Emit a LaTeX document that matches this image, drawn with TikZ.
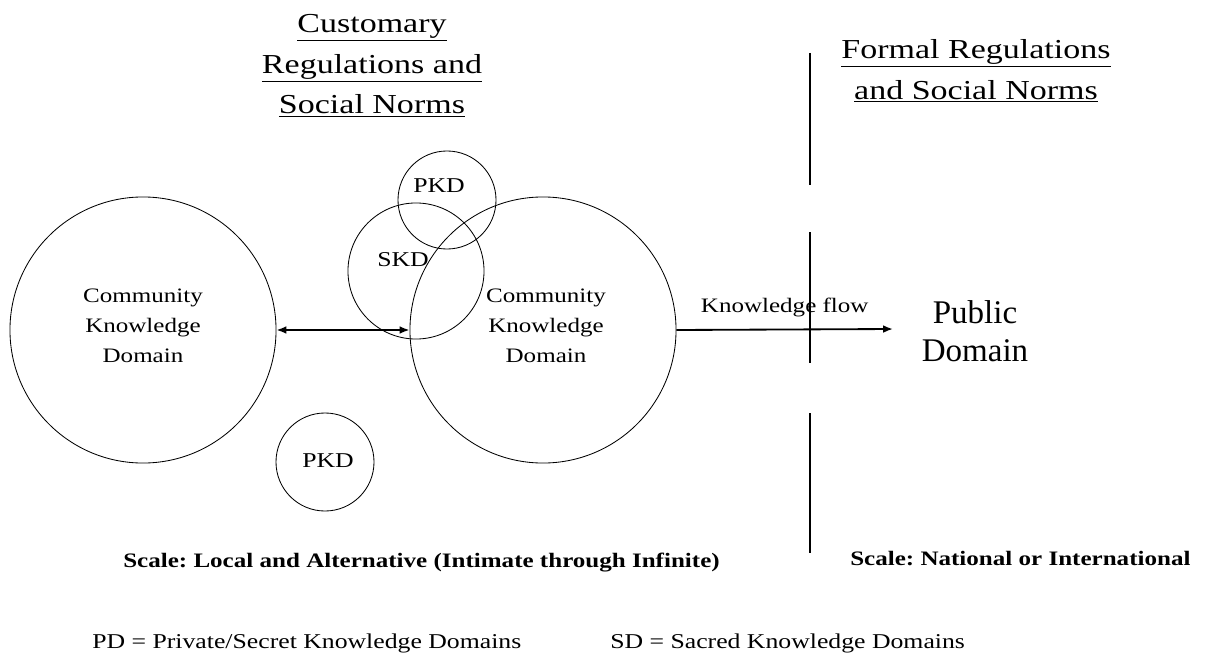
\documentclass[tikz,border=0pt]{standalone}
\usepackage{fontspec}
\setmainfont{Liberation Serif}
\newfontfamily\kdwide[FakeStretch=1.22]{Liberation Serif}
\newfontfamily\kdhead[FakeStretch=1.24]{Liberation Serif}
\frenchspacing
\usetikzlibrary{arrows.meta, positioning}
\tikzset{
  >={Latex[length=7pt, width=5.5pt]},
  kd ring/.style={draw=black, circle, inner sep=0pt, line width=0.6pt},
  kd text/.style={align=center, inner sep=0pt,
    font=\kdwide\fontsize{14.6}{21.3}\selectfont},
  kd tag/.style={inner sep=0pt, font=\kdwide\fontsize{15}{18}\selectfont},
  kd head/.style={align=center, inner sep=0pt, anchor=north,
    font=\kdhead\fontsize{19.5}{29}\selectfont},
  kd scale/.style={anchor=base west, inner sep=0pt,
    font=\kdwide\bfseries\fontsize{14.6}{17}\selectfont},
  kd key/.style={anchor=base west, inner sep=0pt,
    font=\kdwide\fontsize{15}{18}\selectfont},
  kd flow/.style={draw=black, line width=1.3pt},
  kd border/.style={draw=black, line width=0.9pt},
}

\begin{document}
\begin{tikzpicture}[x=0.025cm, y=-0.025cm]
 \useasboundingbox (0,0) rectangle (1205,657);
 % knowledge domains
 \node[kd ring, minimum size=6.65cm] (comA) at (143,330) {};
 \node[kd ring, minimum size=6.65cm] (comB) at (543,330) {};
 \node[kd ring, minimum size=3.4cm] (skd) at (416,271) {};
 \node[kd ring, minimum size=2.45cm] (pkdA) at (447,200) {};
 \node[kd ring, minimum size=2.45cm] (pkdB) at (325,462) {};
 \node[kd text] (comAtxt) at (143,326) {Community\\Knowledge\\Domain};
 \node[kd text] (comBtxt) at (546,326) {Community\\Knowledge\\Domain};
 \node[kd tag] (skdtxt) at (403,260) {SKD};
 \node[kd tag] (pkdAtxt) at (439,186) {PKD};
 \node[kd tag] (pkdBtxt) at (328,461) {PKD};

 % headings on both sides of the border
 \node[kd head] (cust) at (372,14)
   {\underline{Customary}\\\underline{Regulations and}\\\underline{Social Norms}};
 \node[kd head] (formal) at (976,39)
   {\underline{Formal Regulations}\\\underline{and Social Norms}};
 \node[align=center, anchor=north, inner sep=0pt,
   font=\fontsize{23.5}{27}\selectfont] (pubtxt) at (975,300) {Public\\Domain};

 % border between the two scales
 \coordinate (b1) at (810,53);  \coordinate (b2) at (810,185);
 \coordinate (b3) at (810,232); \coordinate (b4) at (810,363);
 \coordinate (b5) at (810,413); \coordinate (b6) at (810,553);
 \draw[kd border] (b1)--(b2) (b3)--(b4) (b5)--(b6);

 \coordinate (pub) at (893,329);
 \draw[kd flow, <->] (comA.east)--(comB.west);
 \draw[kd flow, ->] (comB.east)--node[above=8.5pt, inner sep=0pt,
   font=\kdwide\fontsize{14.6}{17}\selectfont]{Knowledge flow} (pub);

 \node[kd scale] (scaleA) at (123,567)
   {Scale: Local and Alternative (Intimate through Infinite)};
 \node[kd scale] (scaleB) at (850,565) {Scale: National or International};
 \node[kd key] (keyP) at (92,648) {PD = Private/Secret Knowledge Domains};
 \node[kd key] (keyS) at (610,648) {SD = Sacred Knowledge Domains};
\end{tikzpicture}
\end{document}
